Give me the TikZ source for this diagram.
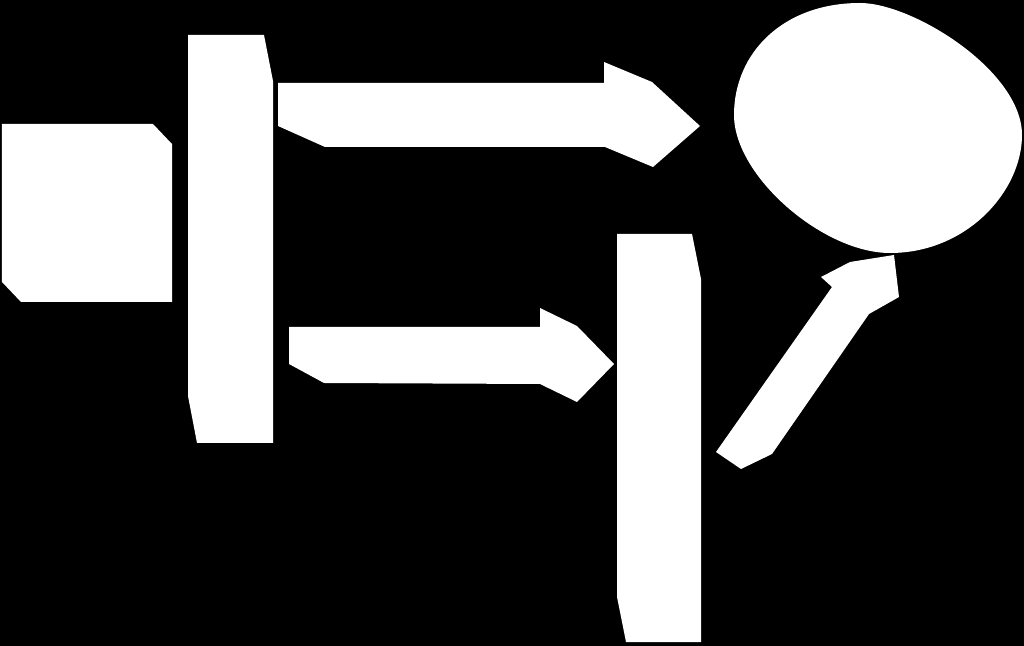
\documentclass[tikz,border=0pt]{standalone}
\tikzset{
  katachi/.style={fill=white},
}
\begin{document}
\begin{tikzpicture}[x=0.01cm,y=-0.01cm]
\useasboundingbox (0,0) rectangle (1024,646);
% 背景
\fill[black] (0,0) rectangle (1024,646);
% 左の四角
\fill[katachi] (2,124) -- (153,124) -- (172,144) -- (172,302) -- (21,302) -- (2,282) -- cycle;
% 左の縦板
\fill[katachi] (188,35) -- (264,35) -- (273,81) -- (273,443) -- (197,443) -- (188,396) -- cycle;
% 上の矢印
\fill[katachi] (278,83) -- (604,83) -- (604,62) -- (652,82) -- (700,126) -- (653,167) -- (605,147) -- (325,147) -- (278,126) -- cycle;
% 下の矢印
\fill[katachi] (289,327) -- (540,327) -- (540,308) -- (577,326) -- (614,364) -- (577,402) -- (540,384) -- (324,383) -- (289,364) -- cycle;
% 右の縦板
\fill[katachi] (617,234) -- (692,234) -- (701,279) -- (701,642) -- (626,642) -- (617,597) -- cycle;
% 斜めの矢印
\fill[katachi] (716,452) -- (741,469) -- (772,454) -- (869,314) -- (899,297) -- (894,255) -- (850,262) -- (821,277) -- (832,287) -- cycle;
% 楕円
\fill[katachi] (860,3) .. controls (913,3) and (1022,71) .. (1022,135)
  .. controls (1022,191) and (967,253) .. (890,253)
  .. controls (823,253) and (734,176) .. (734,115)
  .. controls (734,53) and (783,3) .. (860,3) -- cycle;
\end{tikzpicture}
\end{document}
